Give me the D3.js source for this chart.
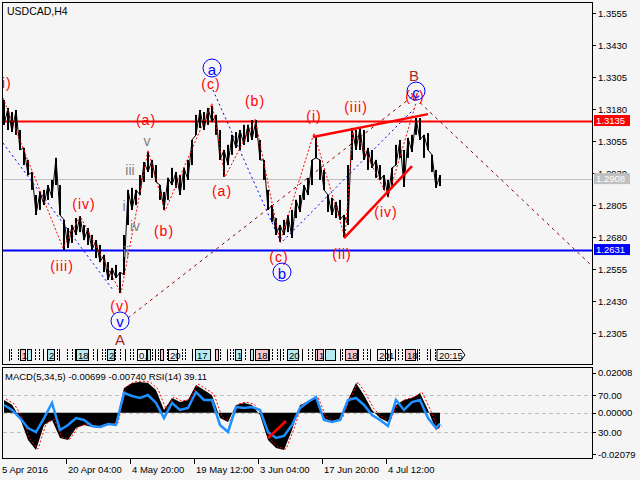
<!DOCTYPE html>
<html>
<head>
<meta charset="utf-8">
<script src="https://cdn.jsdelivr.net/npm/d3@7"></script>
<style>
body { margin: 0; background: #f5f5f5; }
svg { display: block; font-family: "Liberation Sans", Arial, sans-serif; }
</style>
</head>
<body>
<div class="chart-container"></div>
<script>
// price bars, one sample every 4 bars
const barHigh = [1.3215,1.3184,1.3168,1.3176,1.3098,1.3028,1.2981,1.2934,1.2844,1.2856,
  1.2864,1.2883,1.2903,1.2989,1.2883,1.2747,1.2715,1.2727,1.2754,1.2762,
  1.2727,1.2715,1.2688,1.2668,1.2649,1.2610,1.2582,1.2559,1.2571,1.2543,
  1.2688,1.2864,1.2872,1.2864,1.2922,1.2973,1.3012,1.2981,1.2961,1.2883,
  1.2856,1.2911,1.2950,1.2934,1.2922,1.2950,1.2981,1.3059,1.3157,1.3176,
  1.3168,1.3184,1.3192,1.3157,1.3098,1.3020,1.3040,1.3079,1.3090,1.3098,
  1.3118,1.3118,1.3137,1.3137,1.3059,1.2981,1.2864,1.2805,1.2754,1.2727,
  1.2747,1.2766,1.2786,1.2825,1.2844,1.2883,1.2911,1.2981,1.3071,1.2981,
  1.2942,1.2844,1.2833,1.2817,1.2825,1.2766,1.2961,1.3106,1.3098,1.3106,
  1.3098,1.3028,1.3020,1.2981,1.2961,1.2922,1.2903,1.2950,1.3040,1.3059,
  1.3020,1.3067,1.3079,1.3145,1.3145,1.3079,1.3086,1.3001,1.2942,1.2922]
const barLow = [1.3118,1.3098,1.3090,1.3079,1.3020,1.2961,1.2922,1.2864,1.2766,1.2786,
  1.2805,1.2825,1.2833,1.2883,1.2766,1.2629,1.2637,1.2657,1.2688,1.2699,
  1.2668,1.2649,1.2629,1.2598,1.2582,1.2543,1.2512,1.2512,1.2520,1.2461,
  1.2532,1.2727,1.2786,1.2805,1.2844,1.2895,1.2934,1.2911,1.2895,1.2825,
  1.2786,1.2825,1.2883,1.2872,1.2844,1.2864,1.2903,1.2961,1.3079,1.3106,
  1.3098,1.3118,1.3129,1.3079,1.2981,1.2915,1.2961,1.3001,1.3028,1.3020,
  1.3040,1.3051,1.3059,1.3067,1.2981,1.2903,1.2786,1.2739,1.2688,1.2661,
  1.2688,1.2699,1.2676,1.2754,1.2778,1.2825,1.2844,1.2883,1.2989,1.2903,
  1.2864,1.2778,1.2766,1.2754,1.2747,1.2680,1.2727,1.2981,1.3020,1.3020,
  1.2981,1.2942,1.2950,1.2911,1.2903,1.2864,1.2836,1.2872,1.2961,1.2989,
  1.2876,1.2989,1.3012,1.3079,1.3059,1.2989,1.3020,1.2934,1.2872,1.2879]

// indicator window, one sample every 8 bars (last one is the final bar)
const macdValues = [0.0063,0.0040,-0.0027,-0.0138,-0.0188,-0.0062,-0.0037,-0.0128,-0.0138,-0.0077,
  -0.0062,-0.0072,-0.0077,-0.0062,-0.0057,0.0124,0.0149,0.0154,0.0149,0.0114,
  0.0013,0.0073,0.0053,0.0063,0.0139,0.0114,0.0088,-0.0027,-0.0047,0.0038,
  0.0048,0.0038,-0.0012,-0.0138,-0.0178,-0.0188,-0.0087,0.0038,0.0053,0.0073,
  -0.0027,-0.0047,-0.0037,0.0063,0.0149,0.0088,0.0013,-0.0027,-0.0047,0.0038,
  0.0063,0.0073,0.0098,0.0013,-0.0087,-0.0070]
const rsiValues = [59.2,53.8,45.1,34.3,30.0,45.1,61.4,32.2,37.6,45.1,
  43.0,36.5,35.4,38.6,37.6,72.2,68.9,66.8,70.0,61.4,
  45.1,61.4,53.8,55.9,73.2,64.6,64.6,37.6,30.0,57.0,
  55.9,57.0,53.8,30.0,23.5,25.7,37.6,55.9,62.4,67.8,
  43.0,40.8,43.0,64.6,66.8,59.2,48.4,43.0,36.5,64.6,
  53.8,62.4,64.6,45.1,34.3,39.1]

const priceTicks = [1.3555,1.3430,1.3305,1.3180,1.3055,1.2930,1.2805,1.2680,1.2555,1.2430,1.2305]
const timeLabels = ["5 Apr 2016","20 Apr 04:00","4 May 20:00","19 May 12:00","3 Jun 04:00","17 Jun 20:00","4 Jul 12:00"]
const timeTickBars = [-0.5,15.5,31.5,47.5,63.5,79.5,95.5]

// horizontal levels
const levels = [{p: 1.3135, color: "#ff0000", w: 2}, {p: 1.2908, color: "#c0c0c0", w: 1}, {p: 1.2631, color: "#0000ff", w: 2}]

// wave lines, [bar, price]
const redDotted = [[-0.25,1.3223],[14.75,1.2637],[19,1.2762],[29.25,1.2461],[36,1.3020],[40.25,1.2782],[52,1.3203],
  [55.25,1.2914],[62.75,1.3141],[69,1.2661],[77.5,1.3086],[85.25,1.2676],[87.25,1.3106],[96,1.2836],[103,1.3203]]
const blueDotted1 = [[-0.25,1.3047],[27.25,1.2473]]
const blueDotted2 = [[52.25,1.3254],[69.25,1.2657],[102.75,1.3184]]
const maroonDotted = [[31,1.2364],[102.25,1.3231],[147,1.2567]]
const redTrend1 = [[77.25,1.3071],[106,1.3160]]
const redTrend2 = [[85,1.2676],[102,1.2957]]
const rsiTrend = [[66,23.5],[70.5,41.9]]

// wave labels [text, bar, price, kind]
const waveLabels = [
  ["(i)",0,1.3282,"red"],["(iii)",14.5,1.2567,"red"],["(iv)",20,1.2809,"red"],["(v)",29,1.2410,"red"],
  ["v",29,1.2352,"circle"],["A",29,1.2278,"major"],
  ["iii",31.5,1.2942,"gray"],["v",35.75,1.3055,"gray"],["i",30,1.2801,"gray"],["iv",32.75,1.2723,"gray"],["ii",30.5,1.2621,"slate"],
  ["(a)",35.5,1.3137,"red"],["(b)",40,1.2703,"red"],["(c)",51.75,1.3278,"red"],["a",52,1.3340,"circle"],
  ["(a)",54.5,1.2860,"red"],["(b)",62.75,1.3211,"red"],["(c)",68.75,1.2602,"red"],["b",69.5,1.2543,"circle"],
  ["(i)",77.5,1.3153,"red"],["(iii)",88,1.3188,"red"],["(ii)",84.5,1.2614,"red"],["(iv)",95.5,1.2778,"red"],
  ["(v)",102.75,1.3231,"red"],["c",103,1.3250,"circle"],["B",102.5,1.3309,"major"]]

// period separator strip
const stripLines = [1.25,1.75,3.5,6,7.75,8.75,9.75,11,13.25,13.75,15.75,17,17.75,21,22.25,23.25,24.5,25.25,26.5,27.75,
  29,30.25,31.5,32.25,33.25,35.75,37,37.75,38.5,40.75,43.25,44.5,45.25,47,48.25,50.75,51.5,52.75,54,55.75,56.5,57.25,57.75,59,
  60.25,61.5,62,64.75,66.25,67,68.25,69,69.75,73.5,74.5,76,77,77.75,80.75,81.5,84,84.5,87.25,88.5,89.75,90.75,91.5,
  93.25,94.75,97.75,98.5,99.5,103.25,103.75,105.75,106.5,107.75]
const stripBoxes = [[4,1.25,"pink","1"],[5.75,1,"cyan",""],[10.75,1.75,"cyan","2"],[18,3,"cyan","18"],[25.75,1.75,"cyan","2"],
  [33.25,2.25,"white","0."],[35.75,0.75,"cyan",""],[39,0.75,"pink",""],[41,2.25,"white","20"],[47.75,3.75,"cyan","17"],
  [52.75,0.75,"pink",""],[57.75,1.5,"cyan","1"],[61.5,0.75,"cyan",""],[62.75,3.25,"pink","18"],[70.75,2.75,"cyan","20"],
  [77.75,0.5,"pink",""],[78.25,1.5,"pink","1"],[80.25,2.5,"cyan",""],[85.25,3,"pink","18"],[93.25,2,"white","20"],
  [95.75,0.75,"white","1"],[100.25,2.5,"pink","18"]]

const boxFill = {pink: "#f9c4cb", cyan: "#b4eaf0", white: "#f5f5f5"}
const labelColor = {red: "#ff0000", gray: "#808080", slate: "#7f8ea0", major: "#a52a2a"}

svg = d3.select(".chart-container").append("svg").attr("width", 640).attr("height", 480)
svg.append("rect").attr("width", 640).attr("height", 480).attr("fill", "#f5f5f5")

x = d3.scaleLinear().domain([0, 109]).range([4, 440])
y = d3.scaleLinear().domain([1.2305, 1.3555]).range([333, 13])
yMacd = d3.scaleLinear().domain([-0.02079, 0.02008]).range([454, 372.7])
yRsi = d3.scaleLinear().domain([30, 70]).range([432, 395])
subIdx = i => Math.min(i * 2, 109)

svg.append("clipPath").attr("id", "mainClip").append("rect").attr("x", 3).attr("y", 3).attr("width", 589).attr("height", 361)
svg.append("clipPath").attr("id", "subClip").append("rect").attr("x", 3).attr("y", 368).attr("width", 589).attr("height", 90)

main = svg.append("g").attr("clip-path", "url(#mainClip)")

// horizontal levels
main.selectAll(".level").data(levels).enter().append("line")
  .attr("x1", 3).attr("x2", 592)
  .attr("y1", d => Math.round(y(d.p)) + 0.5).attr("y2", d => Math.round(y(d.p)) + 0.5)
  .attr("stroke", d => d.color).attr("stroke-width", d => d.w)

line = d3.line().x(d => x(d[0])).y(d => y(d[1]))

main.append("path").attr("d", line(blueDotted1)).attr("fill", "none").attr("stroke", "#0000ff").attr("stroke-dasharray", "2,3")
main.append("path").attr("d", line(blueDotted2)).attr("fill", "none").attr("stroke", "#0000ff").attr("stroke-dasharray", "2,3")
main.append("path").attr("d", line(maroonDotted)).attr("fill", "none").attr("stroke", "#8b0000").attr("stroke-dasharray", "3,4")

// price bars
main.selectAll(".bar").data(barHigh).enter().append("rect")
  .attr("x", (d, i) => x(i) - 1).attr("width", 2)
  .attr("y", d => y(d)).attr("height", (d, i) => y(barLow[i]) - y(d))
  .attr("fill", "#000")
zig = barHigh.map((d, i) => [i, i % 2 ? d : barLow[i]])
main.append("path").attr("d", line(zig)).attr("fill", "none").attr("stroke", "#000").attr("stroke-width", 1)

main.append("path").attr("d", line(redDotted)).attr("fill", "none").attr("stroke", "#ff0000").attr("stroke-dasharray", "2,2")
main.append("path").attr("d", line(redTrend1)).attr("stroke", "#ff0000").attr("stroke-width", 2.5)
main.append("path").attr("d", line(redTrend2)).attr("stroke", "#ff0000").attr("stroke-width", 2.5)

// wave labels
waveLabels.forEach(d => {
  if (d[3] == "circle") {
    main.append("circle").attr("cx", x(d[1])).attr("cy", y(d[2])).attr("r", 9)
      .attr("fill", "none").attr("stroke", "#0000ff")
    main.append("text").attr("x", x(d[1])).attr("y", y(d[2]) + 1).text(d[0])
      .attr("text-anchor", "middle").attr("dominant-baseline", "central")
      .attr("font-size", 15).attr("fill", "#0000ff")
  } else {
    main.append("text").attr("x", x(d[1])).attr("y", y(d[2])).text(d[0])
      .attr("text-anchor", "middle").attr("dominant-baseline", "central")
      .attr("font-size", d[3] == "major" ? 15 : 14).attr("letter-spacing", d[3] == "red" ? 1 : 0)
      .attr("fill", labelColor[d[3]])
  }
})

// separator strip
strip = main.append("g")
strip.selectAll("line").data(stripLines).enter().append("line")
  .attr("x1", d => Math.round(x(d)) + 0.5).attr("x2", d => Math.round(x(d)) + 0.5)
  .attr("y1", 349).attr("y2", 361).attr("stroke", "#000")
  .attr("stroke-dasharray", (d, i) => i % 3 == 0 ? null : "2,1")
strip.selectAll("rect").data(stripBoxes).enter().append("rect")
  .attr("x", d => Math.round(x(d[0])) + 0.5).attr("y", 349.5)
  .attr("width", d => d[1] * 4).attr("height", 11)
  .attr("fill", d => boxFill[d[2]]).attr("stroke", "#000")
strip.selectAll("text").data(stripBoxes).enter().append("text")
  .attr("x", d => x(d[0]) + 2).attr("y", 358.5).text(d => d[3])
  .attr("font-size", 9.5).attr("fill", "#000")
// last bar time marker
lastX = x(108.25)
strip.append("path")
  .attr("d", `M${lastX},349.5 h24 l4,5.5 l-4,5.5 h-24 Z`)
  .attr("fill", "#f5f5f5").attr("stroke", "#000")
strip.append("text").attr("x", lastX + 2).attr("y", 358.5).text("20:15").attr("font-size", 9.5)

// title
svg.append("text").attr("x", 7).attr("y", 15).text("USDCAD,H4").attr("font-size", 10.5)

// indicator sub window
sub = svg.append("g").attr("clip-path", "url(#subClip)")
sub.selectAll(".lvl").data([70, 30]).enter().append("line")
  .attr("x1", 3).attr("x2", 592).attr("y1", d => Math.round(yRsi(d)) + 0.5).attr("y2", d => Math.round(yRsi(d)) + 0.5)
  .attr("stroke", "#c0c0c0").attr("stroke-dasharray", "4,3")
sub.append("line").attr("x1", 3).attr("x2", 592).attr("y1", Math.round(yMacd(0)) + 0.5).attr("y2", Math.round(yMacd(0)) + 0.5)
  .attr("stroke", "#c0c0c0").attr("stroke-dasharray", "4,3")

hist = d3.area().x((d, i) => x(subIdx(i))).y0(yMacd(0)).y1(d => yMacd(d))
sub.append("path").attr("d", hist(macdValues)).attr("fill", "#000")
sigLine = d3.line().x((d, i) => x(subIdx(i)) + 2).y(d => yMacd(d) - 1)
sub.append("path").attr("d", sigLine(macdValues)).attr("fill", "none").attr("stroke", "#ff0000").attr("stroke-dasharray", "2,2")
rsiLine = d3.line().x((d, i) => x(subIdx(i))).y(d => yRsi(d))
sub.append("path").attr("d", rsiLine(rsiValues)).attr("fill", "none").attr("stroke", "#1e90ff").attr("stroke-width", 2.5)
sub.append("path").attr("d", d3.line().x(d => x(d[0])).y(d => yRsi(d[1]))(rsiTrend))
  .attr("stroke", "#ff0000").attr("stroke-width", 2.5)

svg.append("text").attr("x", 5).attr("y", 380)
  .text("MACD(5,34,5) -0.00699 -0.00740 RSI(14) 39.11").attr("font-size", 9.5)

// frames
svg.append("rect").attr("x", 2.5).attr("y", 2.5).attr("width", 590).attr("height", 362).attr("fill", "none").attr("stroke", "#000")
svg.append("rect").attr("x", 2.5).attr("y", 367.5).attr("width", 590).attr("height", 91).attr("fill", "none").attr("stroke", "#000")

// right price axis
axisR = svg.append("g").attr("font-size", 9.5)
axisR.selectAll("line").data(priceTicks).enter().append("line")
  .attr("x1", 592).attr("x2", 596).attr("y1", d => Math.round(y(d)) + 0.5).attr("y2", d => Math.round(y(d)) + 0.5).attr("stroke", "#000")
axisR.selectAll("text").data(priceTicks).enter().append("text")
  .attr("x", 598).attr("y", d => y(d)).attr("dominant-baseline", "central").text(d => d.toFixed(4))

tags = svg.append("g").attr("font-size", 9.5)
tags.selectAll("rect").data(levels).enter().append("rect")
  .attr("x", 594).attr("y", d => y(d.p) - 5.5).attr("width", 36).attr("height", 11).attr("fill", d => d.color)
tags.selectAll("text").data(levels).enter().append("text")
  .attr("x", 596).attr("y", d => y(d.p)).attr("dominant-baseline", "central").attr("fill", "#fff").text(d => d.p.toFixed(4))

// right sub axis
subTicks = [[yMacd(0.02008), "0.02008"], [yRsi(70), "70.00"], [yMacd(0), "0.00000"], [yRsi(30), "30.00"], [yMacd(-0.02079), "-0.02079"]]
subAxis = svg.append("g").attr("font-size", 9.5)
subAxis.selectAll("line").data(subTicks).enter().append("line")
  .attr("x1", 592).attr("x2", 596).attr("y1", d => Math.round(d[0]) + 0.5).attr("y2", d => Math.round(d[0]) + 0.5).attr("stroke", "#000")
subAxis.selectAll("text").data(subTicks).enter().append("text")
  .attr("x", 598).attr("y", d => d[0]).attr("dominant-baseline", "central").text(d => d[1])

// time axis
timeAxis = svg.append("g").attr("font-size", 9.5)
timeAxis.selectAll("line").data(timeTickBars.slice(1)).enter().append("line")
  .attr("x1", d => Math.round(x(d)) + 0.5).attr("x2", d => Math.round(x(d)) + 0.5)
  .attr("y1", 459).attr("y2", 464).attr("stroke", "#000")
timeAxis.selectAll("text").data(timeLabels).enter().append("text")
  .attr("x", (d, i) => i == 0 ? 2 : x(timeTickBars[i]) + 2).attr("y", 473).text(d => d)
</script>
</body>
</html>
